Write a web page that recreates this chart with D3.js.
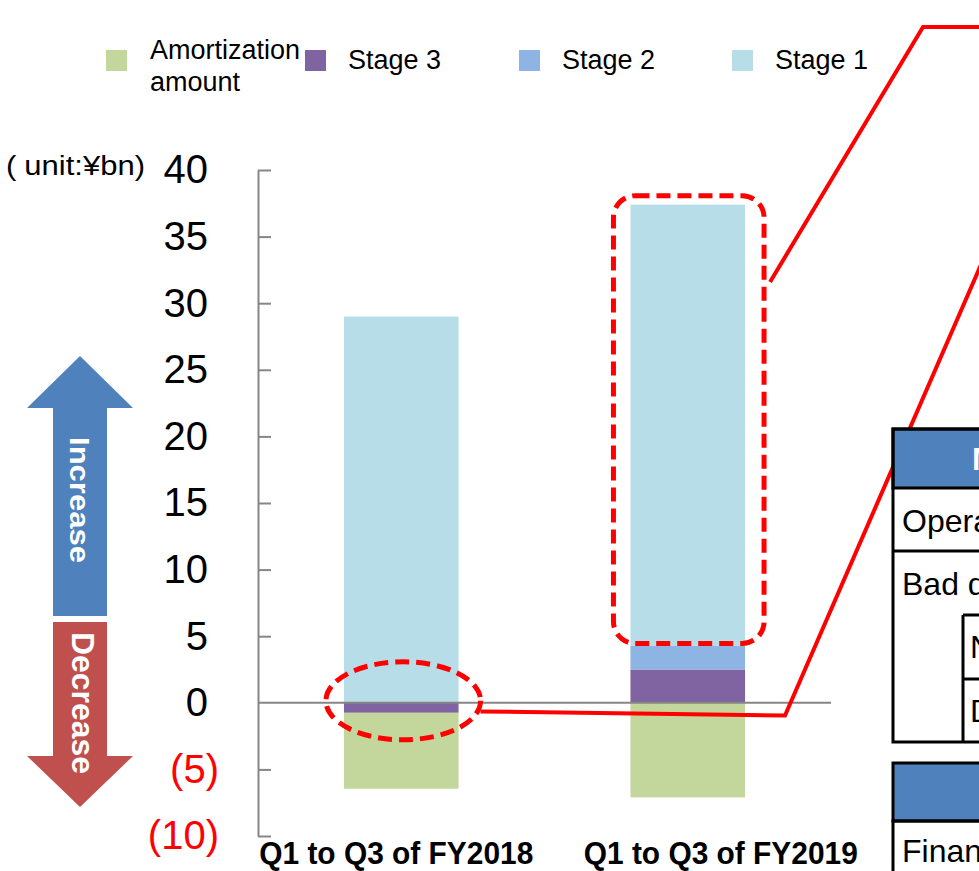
<!DOCTYPE html>
<html>
<head>
<meta charset="utf-8">
<script src="https://cdn.jsdelivr.net/npm/d3@7"></script>
<style>
  html, body { margin: 0; padding: 0; background: #fff; }
  svg { display: block; }
</style>
</head>
<body>
<div id="chart"></div>
<script>
// chart values (unit: ¥bn)
const categories = ['Q1 to Q3 of FY2018', 'Q1 to Q3 of FY2019'];
const amortization = [-5.7, -7.1];
const stage3 = [-0.75, 2.5];
const stage2 = [0, 1.8];
const stage1 = [29.0, 33.1];
const yTicks = [-10, -5, 0, 5, 10, 15, 20, 25, 30, 35, 40];

const seriesKeys = ['amortization', 'stage3', 'stage2', 'stage1'];
const seriesNames = ['Amortization amount', 'Stage 3', 'Stage 2', 'Stage 1'];
const colors = {
	amortization: '#C3D69B',
	stage3: '#8064A2',
	stage2: '#8EB4E3',
	stage1: '#B7DEE8'
};

const width = 979;
const height = 871;
const narrow = "'Liberation Sans Narrow', 'Arial Narrow', 'Liberation Sans', Arial, sans-serif";
const regular = "'Liberation Sans', Arial, sans-serif";

const svg = d3
	.select('#chart')
	.append('svg')
	.attr('width', width)
	.attr('height', height)
	.attr('viewBox', `0 0 ${width} ${height}`);

const rows = categories.map((c, i) => ({
	cat: c,
	amortization: amortization[i],
	stage3: stage3[i],
	stage2: stage2[i],
	stage1: stage1[i]
}));

// stage 3 sits next to zero, amortization below it
const stacked = d3
	.stack()
	.keys([ 'stage3', 'stage2', 'stage1', 'amortization' ])
	.offset(d3.stackOffsetDiverging)(rows);

// scales
const xScale = d3.scaleBand().domain(categories).range([ 258, 831 ]).paddingInner(0.6).paddingOuter(0.3);
const yScale = d3.scaleLinear().domain([ -10, 40 ]).range([ 836, 170 ]);

// y axis, ticks pointing into the plot
const yAxis = d3
	.axisLeft(yScale)
	.tickValues(yTicks)
	.tickSizeInner(-13)
	.tickSizeOuter(0)
	.tickPadding(50)
	.tickFormat((d) => (d < 0 ? `(${-d})` : d));

const axisG = svg.append('g').attr('transform', 'translate(258, 0)').call(yAxis);
axisG.selectAll('path, line').attr('stroke', '#868686').attr('stroke-width', 2);
axisG.selectAll('.tick line').filter((d) => d === 0).remove();
axisG
	.selectAll('text')
	.style('font-family', regular)
	.style('font-size', '40px')
	.attr('fill', (d) => (d < 0 ? '#FF0000' : '#000'))
	.attr('x', (d) => (d < 0 ? -39 : -50));

// bars
svg
	.append('g')
	.selectAll('g')
	.data(stacked)
	.join('g')
	.attr('fill', (s) => colors[s.key])
	.selectAll('rect')
	.data((s) => s)
	.join('rect')
	.attr('x', (d) => xScale(d.data.cat))
	.attr('width', xScale.bandwidth())
	.attr('y', (d) => yScale(d[1]))
	.attr('height', (d) => yScale(d[0]) - yScale(d[1]));

// zero line
svg
	.append('line')
	.attr('x1', 258)
	.attr('x2', 831)
	.attr('y1', yScale(0))
	.attr('y2', yScale(0))
	.attr('stroke', '#868686')
	.attr('stroke-width', 2);

// category labels (first one pushed against the axis, second one spills right)
const labelShift = [ -5, 33 ];
svg
	.append('g')
	.selectAll('text')
	.data(categories)
	.join('text')
	.attr('x', (d, i) => xScale(d) + xScale.bandwidth() / 2 + labelShift[i])
	.attr('y', 864)
	.attr('text-anchor', 'middle')
	.attr('textLength', 274)
	.attr('lengthAdjust', 'spacingAndGlyphs')
	.style('font-family', narrow)
	.style('font-weight', 'bold')
	.style('font-size', '32px')
	.text((d) => d);

// unit label
const unitText = svg
	.append('text')
	.attr('x', 6)
	.attr('y', 175)
	.attr('textLength', 139)
	.attr('lengthAdjust', 'spacingAndGlyphs')
	.style('font-family', regular)
	.style('font-size', '27px');
unitText.append('tspan').text('(');
unitText.append('tspan').attr('dx', 7).text('unit:¥bn)');

// legend
const legendX = [ 106, 305, 519, 732 ];
const legend = svg
	.append('g')
	.selectAll('g')
	.data(seriesKeys)
	.join('g')
	.attr('transform', (d, i) => `translate(${legendX[i]}, 50)`);

legend.append('rect').attr('width', 21).attr('height', 21).attr('fill', (d) => colors[d]);

legend
	.append('text')
	.attr('x', 43)
	.attr('y', (d, i) => (i === 0 ? 9 : 19))
	.style('font-family', regular)
	.style('font-size', '27px')
	.each(function(d, i) {
		const t = d3.select(this);
		if (i === 0) {
			t.append('tspan').attr('x', 44).text('Amortization');
			t.append('tspan').attr('x', 44).attr('dy', 32).text('amount');
		} else {
			t.text(seriesNames[i]);
		}
	});

// increase / decrease arrows
svg
	.append('path')
	.attr('d', 'M80,356 L133,408 L107,408 L107,616 L53,616 L53,408 L27,408 Z')
	.attr('fill', '#4F81BD');
svg
	.append('path')
	.attr('d', 'M53,622 L107,622 L107,756 L133,756 L80,807 L27,756 L53,756 Z')
	.attr('fill', '#C0504D');

svg
	.append('text')
	.attr('transform', 'translate(70, 500) rotate(90)')
	.attr('text-anchor', 'middle')
	.attr('textLength', 126)
	.attr('lengthAdjust', 'spacingAndGlyphs')
	.attr('fill', '#fff')
	.style('font-family', regular)
	.style('font-weight', 'bold')
	.style('font-size', '28px')
	.text('Increase');
svg
	.append('text')
	.attr('transform', 'translate(72, 703) rotate(90)')
	.attr('text-anchor', 'middle')
	.attr('textLength', 142)
	.attr('lengthAdjust', 'spacingAndGlyphs')
	.attr('fill', '#fff')
	.style('font-family', regular)
	.style('font-weight', 'bold')
	.style('font-size', '31px')
	.text('Decrease');

// callouts
const b1 = xScale(categories[0]);
const b2 = xScale(categories[1]);
const bw = xScale.bandwidth();
const base2 = stacked[1][1][1]; // top of stage 2 in FY2019
const top2 = stacked[2][1][1];

const ell = { cx: b1 + bw / 2 + 2, cy: yScale(0) - 2, rx: bw / 2 + 20, ry: 39 };

svg
	.append('ellipse')
	.attr('cx', ell.cx)
	.attr('cy', ell.cy)
	.attr('rx', ell.rx)
	.attr('ry', ell.ry)
	.attr('fill', 'none')
	.attr('stroke', '#FF0000')
	.attr('stroke-width', 5)
	.attr('stroke-dasharray', '14,7');

const box = { x: b2 - 17, y: yScale(top2) - 9, x2: b2 + bw + 19, y2: yScale(base2) - 2 };
svg
	.append('rect')
	.attr('x', box.x)
	.attr('y', box.y)
	.attr('width', box.x2 - box.x)
	.attr('height', box.y2 - box.y)
	.attr('rx', 22)
	.attr('fill', 'none')
	.attr('stroke', '#FF0000')
	.attr('stroke-width', 5)
	.attr('stroke-dasharray', '14,7');

// leader from the rounded box to the top right
svg
	.append('path')
	.attr('d', `M${box.x2 + 6},282 L923,27 L990,27`)
	.attr('fill', 'none')
	.attr('stroke', '#FF0000')
	.attr('stroke-width', 4);

// leader from the ellipse, along under zero, then up to the right
svg
	.append('path')
	.attr('d', `M${ell.cx + ell.rx},${yScale(-0.65)} L785,${yScale(-0.95)} L1096,0`)
	.attr('fill', 'none')
	.attr('stroke', '#FF0000')
	.attr('stroke-width', 4);

// partly visible table on the right edge
const tbl = svg.append('g').style('font-family', narrow).style('font-size', '32px');
const tx = 893;

tbl.append('rect').attr('x', tx).attr('y', 429).attr('width', 200).attr('height', 59).attr('fill', '#4F81BD');
tbl.append('rect').attr('x', tx).attr('y', 429).attr('width', 200).attr('height', 313).attr('fill', 'none').attr('stroke', '#000').attr('stroke-width', 3);
tbl.append('rect').attr('x', tx).attr('y', 429).attr('width', 200).attr('height', 59).attr('fill', 'none').attr('stroke', '#000').attr('stroke-width', 3);
[ 551, 615 ].forEach((y, i) => {
	tbl
		.append('line')
		.attr('x1', i === 0 ? tx : 963)
		.attr('x2', 1100)
		.attr('y1', y)
		.attr('y2', y)
		.attr('stroke', '#000')
		.attr('stroke-width', 3);
});
tbl.append('line').attr('x1', 963).attr('x2', 1100).attr('y1', 679).attr('y2', 679).attr('stroke', '#000').attr('stroke-width', 3);
tbl.append('line').attr('x1', 963).attr('x2', 963).attr('y1', 615).attr('y2', 742).attr('stroke', '#000').attr('stroke-width', 3);

tbl.append('text').attr('x', 972).attr('y', 470).attr('fill', '#fff').style('font-weight', 'bold').text('Major items');
tbl.append('text').attr('x', 902).attr('y', 532).text('Operating revenue');
tbl.append('text').attr('x', 902).attr('y', 595).text('Bad debt expenses');
tbl.append('text').attr('x', 970).attr('y', 658).text('New');
tbl.append('text').attr('x', 970).attr('y', 722).text('Decrease');

tbl.append('rect').attr('x', tx).attr('y', 763).attr('width', 200).attr('height', 58).attr('fill', '#4F81BD').attr('stroke', '#000').attr('stroke-width', 3);
tbl.append('rect').attr('x', tx).attr('y', 821).attr('width', 200).attr('height', 80).attr('fill', 'none').attr('stroke', '#000').attr('stroke-width', 3);
tbl.append('text').attr('x', 902).attr('y', 862).text('Financial');
</script>
</body>
</html>
